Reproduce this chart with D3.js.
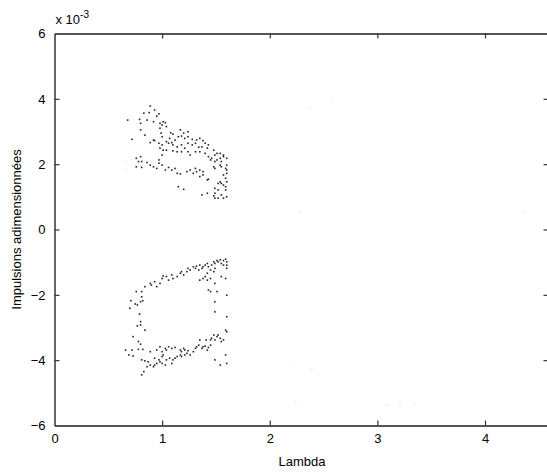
<!DOCTYPE html>
<html>
<head>
<meta charset="utf-8">
<script src="https://cdnjs.cloudflare.com/ajax/libs/d3/7.8.5/d3.min.js"></script>
<style>
  body { margin: 0; background: #fff; overflow: hidden; }
  text { font-family: "Liberation Sans", Arial, sans-serif; }
</style>
</head>
<body>
<div id="chart"></div>
<script>
// axis ticks
var xTicks = [0, 1, 2, 3, 4];
var yTicks = [-6, -4, -2, 0, 2, 4, 6];

// upper cluster (Lambda, impulsion x 1e-3)
var upperLambda = [0.89,0.83,0.88,0.93,0.97,0.95,0.68,0.79,0.86,0.92,0.80,0.98,1.01,1.03,1.00,1.04,0.98,0.80,1.08,1.10,1.17,1.20,1.24,0.84,0.99,1.00,0.72,1.07,1.12,1.15,1.18,1.21,1.24,1.28,1.32,1.35,1.38,1.40,0.92,0.93,0.89,0.97,1.04,1.06,1.09,1.10,1.14,1.18,1.21,1.24,1.28,1.31,1.34,1.37,1.42,1.43,1.48,1.51,1.54,1.57,1.49,1.00,0.98,1.01,1.04,1.10,1.14,1.18,1.24,1.26,1.31,1.35,1.40,1.43,1.46,1.45,0.76,0.80,0.78,0.81,0.76,0.81,0.86,0.89,0.92,0.95,0.97,0.97,1.00,1.00,1.03,1.06,1.09,1.12,1.14,1.17,1.23,1.26,1.29,1.31,1.32,1.35,1.38,1.42,1.43,1.49,1.51,1.54,1.55,1.57,1.60,1.59,1.54,1.55,1.60,1.60,1.60,1.57,1.59,1.52,1.54,1.55,1.57,1.60,1.59,1.49,1.52,1.49,1.55,1.59,1.60,1.57,1.52,1.49,1.48,1.37,1.42,1.15,1.20,1.48,1.49,1.35,1.38];
var upperImpulse = [3.78,3.56,3.58,3.66,3.54,3.47,3.35,3.37,3.35,3.30,3.25,3.25,3.30,3.27,3.20,3.15,3.10,3.05,2.96,2.92,3.05,2.95,2.99,2.89,2.95,2.84,2.76,2.79,2.74,2.84,2.86,2.79,2.84,2.76,2.74,2.79,2.72,2.64,2.74,2.72,2.66,2.64,2.69,2.64,2.66,2.59,2.53,2.59,2.49,2.64,2.59,2.64,2.52,2.53,2.49,2.59,2.43,2.33,2.33,2.28,2.28,2.59,2.49,2.43,2.43,2.41,2.38,2.38,2.38,2.28,2.38,2.38,2.33,2.23,2.18,2.13,2.18,2.23,2.08,2.08,1.92,1.90,2.05,1.97,1.92,1.87,2.13,2.03,2.28,1.97,1.82,1.90,1.82,1.87,1.72,1.70,1.77,1.82,1.72,1.87,1.77,1.62,1.77,1.52,1.54,2.08,2.13,2.18,2.08,2.23,2.18,1.87,1.97,1.92,1.82,1.97,1.72,1.67,1.57,1.41,1.46,1.41,1.36,1.46,1.31,1.26,1.21,1.11,1.06,1.21,1.00,0.96,0.96,0.96,1.03,1.06,1.11,1.31,1.23,1.92,1.87,1.82,1.67];

// lower cluster
var lowerLambda = [0.76,0.81,0.84,0.89,0.90,0.93,0.95,0.98,1.00,1.01,1.04,1.06,1.09,1.10,1.14,1.17,1.18,1.20,1.23,1.24,1.26,1.29,1.31,1.32,1.34,1.35,1.37,1.38,1.40,1.42,1.43,1.45,1.46,1.48,1.49,1.51,1.52,1.54,1.55,1.57,1.59,1.60,1.60,1.57,1.49,1.48,1.42,1.40,1.42,1.45,1.38,1.35,0.71,0.75,0.77,0.80,0.82,0.81,0.70,0.79,0.80,0.77,0.80,0.84,0.73,0.78,0.80,0.66,0.69,0.73,0.72,0.78,0.82,1.43,1.45,1.49,1.49,1.60,1.60,1.59,1.60,1.55,1.59,1.60,1.49,1.51,0.89,0.95,0.98,1.00,1.03,1.04,1.06,1.09,1.12,1.17,1.18,1.20,1.21,1.23,1.24,1.26,1.29,1.31,1.32,1.34,1.35,1.37,1.38,1.40,1.42,1.43,1.45,1.46,1.48,1.49,1.51,1.52,1.54,1.55,1.57,1.45,1.41,0.81,0.84,0.87,0.89,0.92,0.93,0.95,0.98,1.00,1.03,1.04,1.07,1.09,1.10,1.12,1.14,1.17,1.18,1.21,0.97,0.93,0.86,0.83,0.81,1.00,1.01,1.49,1.59,1.60,1.54];
var lowerImpulse = [-1.90,-1.90,-1.75,-1.65,-1.70,-1.60,-1.75,-1.65,-1.50,-1.42,-1.44,-1.55,-1.39,-1.50,-1.44,-1.34,-1.29,-1.39,-1.29,-1.19,-1.24,-1.14,-1.19,-1.12,-1.24,-1.09,-1.19,-1.14,-1.09,-1.04,-1.14,-1.24,-1.09,-0.99,-1.04,-0.95,-0.99,-0.93,-1.04,-0.95,-0.91,-0.99,-1.09,-1.09,-1.19,-1.29,-1.34,-1.44,-1.55,-1.50,-1.50,-1.55,-2.18,-2.28,-2.31,-2.21,-2.18,-2.06,-2.41,-2.59,-2.82,-2.95,-2.92,-3.08,-3.28,-3.43,-3.51,-3.69,-3.84,-3.87,-3.69,-3.67,-3.67,-1.85,-1.90,-2.21,-2.52,-2.01,-2.67,-3.08,-3.13,-1.44,-1.50,-1.19,-1.65,-1.90,-3.74,-3.69,-3.59,-3.74,-3.64,-3.69,-3.59,-3.64,-3.61,-3.69,-3.74,-3.64,-3.69,-3.79,-3.71,-3.84,-3.74,-3.64,-3.59,-3.54,-3.38,-3.64,-3.59,-3.57,-3.69,-3.61,-3.54,-3.33,-3.23,-3.38,-3.28,-3.23,-3.33,-3.43,-3.38,-3.38,-3.38,-3.99,-4.02,-4.05,-4.15,-4.20,-4.15,-4.10,-4.05,-4.10,-4.15,-3.99,-3.94,-4.10,-3.99,-3.94,-3.89,-3.84,-3.89,-3.84,-3.99,-3.94,-4.20,-4.35,-4.45,-3.89,-3.84,-3.99,-3.84,-4.10,-4.15];

// very faint points
var faintLambda = [2.37,2.58,2.28,4.37,2.22,2.39,2.24,3.09,3.21,3.34,0.66,0.66];
var faintImpulse = [3.72,3.93,0.54,0.54,-4.09,-4.27,-5.28,-5.37,-5.37,-5.37,2.07,1.82];

var W = 547, H = 475;
// right edge of the axes box sits just outside the window
var margin = { top: 33.5, right: -1.5, bottom: 49.5, left: 54.5 };
var width = W - margin.left - margin.right,
    height = H - margin.top - margin.bottom;

var svg = d3.select("#chart")
  .append("svg")
  .attr("width", W)
  .attr("height", H);

var g = svg.append("g")
  .attr("transform", "translate(" + margin.left + "," + margin.top + ")");

var x = d3.scaleLinear().domain([0, 4.59]).range([0, width]);
var y = d3.scaleLinear().domain([-6, 6]).range([height, 0]);

// faint points
var faint = faintLambda.map(function (d, i) { return [d, faintImpulse[i]]; });
g.selectAll(".faint")
  .data(faint)
  .enter().append("rect")
  .attr("x", function (d) { return x(d[0]) - 1; })
  .attr("y", function (d) { return y(d[1]) - 1; })
  .attr("width", 2).attr("height", 2)
  .attr("fill", "#e4f7e4");

// data dots
var pts = upperLambda.map(function (d, i) { return [d, upperImpulse[i]]; })
  .concat(lowerLambda.map(function (d, i) { return [d, lowerImpulse[i]]; }));

g.selectAll(".dot")
  .data(pts)
  .enter().append("rect")
  .attr("class", "dot")
  .attr("x", function (d) { return x(d[0]) - 0.8; })
  .attr("y", function (d) { return y(d[1]) - 0.8; })
  .attr("width", 1.6).attr("height", 1.6)
  .attr("fill", "#222");

// axes (ticks inward, box)
var fmt = d3.format("d");
var axBottom = g.append("g")
  .attr("transform", "translate(0," + height + ")")
  .call(d3.axisBottom(x).tickValues(xTicks).tickSizeInner(-5).tickSizeOuter(0).tickPadding(8).tickFormat(fmt));
var axTop = g.append("g")
  .call(d3.axisTop(x).tickValues(xTicks).tickSizeInner(-5).tickSizeOuter(0).tickFormat(""));
var axLeft = g.append("g")
  .call(d3.axisLeft(y).tickValues(yTicks).tickSizeInner(-5).tickSizeOuter(0).tickPadding(9).tickFormat(fmt));
var axRight = g.append("g")
  .attr("transform", "translate(" + width + ",0)")
  .call(d3.axisRight(y).tickValues(yTicks).tickSizeInner(-5).tickSizeOuter(0).tickFormat(""));

[axBottom, axTop, axRight].forEach(function (a) {
  a.select(".domain").attr("stroke", "#555").attr("stroke-width", 2);
});
axLeft.select(".domain").attr("stroke", "#000").attr("stroke-width", 1.2);
[axBottom, axTop, axLeft, axRight].forEach(function (a) {
  a.selectAll(".tick line").attr("stroke", "#333").attr("stroke-width", 1.2);
  a.selectAll("text").attr("fill", "#000").style("font-size", "13px")
    .style("font-family", "'Liberation Sans', Arial, sans-serif");
});
// no tick marks at the corners / x=0
axLeft.selectAll(".tick").filter(function (d) { return d === 6 || d === -6; }).select("line").remove();
axRight.selectAll(".tick").filter(function (d) { return d === 6 || d === -6; }).select("line").remove();
axBottom.selectAll(".tick").filter(function (d) { return d === 0; }).select("line").remove();
axTop.selectAll(".tick").filter(function (d) { return d === 0; }).select("line").remove();

// exponent label
var ex = svg.append("text")
  .attr("x", margin.left + 1)
  .attr("y", 24)
  .style("font-size", "13px");
ex.append("tspan").text("x 10");
ex.append("tspan").attr("dy", -6).style("font-size", "10px").text("-3");

// axis titles
svg.append("text")
  .attr("x", 302)
  .attr("y", 466)
  .attr("text-anchor", "middle")
  .style("font-size", "13px")
  .text("Lambda");

svg.append("text")
  .attr("transform", "translate(21," + (margin.top + height / 2) + ") rotate(-90)")
  .attr("text-anchor", "middle")
  .style("font-size", "13px")
  .text("Impulsions adimensionnées");
</script>
</body>
</html>
